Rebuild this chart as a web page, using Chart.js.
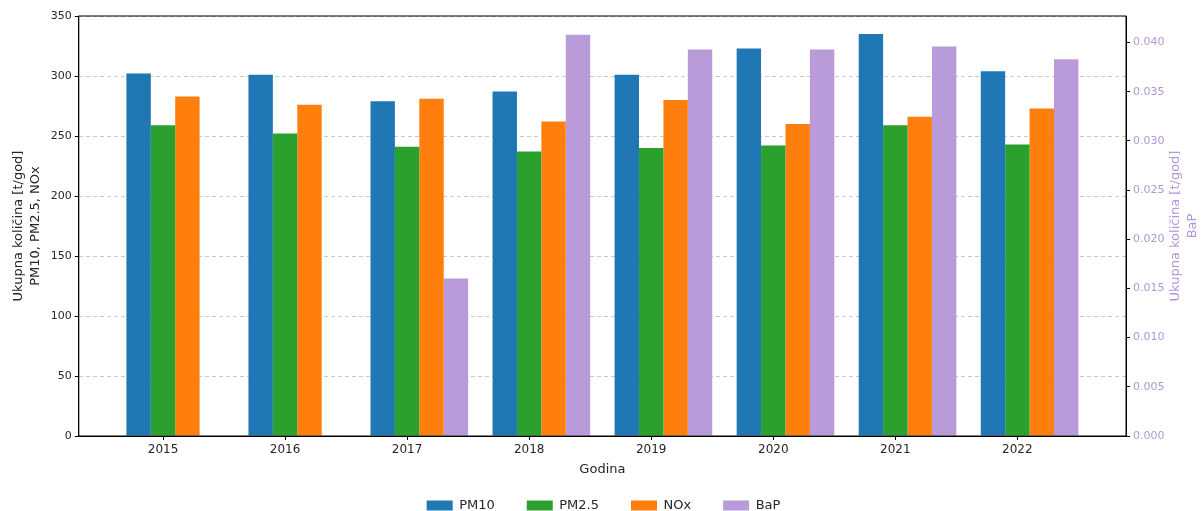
<!DOCTYPE html>
<html>
<head>
<meta charset="utf-8">
<script src="https://cdn.jsdelivr.net/npm/chart.js@4/dist/chart.umd.min.js"></script>
<style>
  body { margin: 0; background: #fff; }
  #wrap { width: 1201px; height: 511px; }
</style>
</head>
<body>
<div id="wrap"><canvas id="chart"></canvas></div>
<script>
const years = [2015, 2016, 2017, 2018, 2019, 2020, 2021, 2022];
const pm10 = [302, 301, 279, 287, 301, 323, 335, 304];
const pm25 = [259, 252, 241, 237, 240, 242, 259, 243];
const nox = [283, 276, 281, 262, 280, 260, 266, 273];
const bap = [null, null, 0.0160, 0.0408, 0.0393, 0.0393, 0.0396, 0.0383];
const leftTicks = [0, 50, 100, 150, 200, 250, 300, 350];
const rightTicks = [0, 0.005, 0.01, 0.015, 0.02, 0.025, 0.03, 0.035, 0.04];

const purple = 'rgb(185,155,218)';
const purpleText = 'rgb(180,148,220)';
const textColor = '#262626';

const toPoints = function (values) {
    return years.map((y, i) => ({x: y + 0.1, y: values[i]}));
};

const frame = {
    id: 'frame',
    afterDraw(chart) {
        const {ctx, chartArea} = chart;
        ctx.save();
        ctx.strokeStyle = '#000';
        ctx.lineWidth = 1;
        ctx.setLineDash([]);
        ctx.strokeRect(chartArea.left, chartArea.top, chartArea.right - chartArea.left, chartArea.bottom - chartArea.top);
        // right axis title, reading bottom to top like the original
        const mid = (chartArea.top + chartArea.bottom) / 2;
        ctx.fillStyle = purpleText;
        ctx.font = '13px "DejaVu Sans"';
        ctx.textAlign = 'center';
        ctx.textBaseline = 'middle';
        ctx.translate(chartArea.right + 50, mid);
        ctx.rotate(-Math.PI / 2);
        ctx.fillText('Ukupna količina [t/god]', 0, 0);
        ctx.fillText('BaP', 0, 17);
        ctx.restore();
    }
};

new Chart(document.getElementById('chart').getContext('2d'), {
    type: 'bar',
    data: {
        datasets: [
            {label: 'PM10', data: toPoints(pm10), backgroundColor: '#1f77b4', yAxisID: 'y'},
            {label: 'PM2.5', data: toPoints(pm25), backgroundColor: '#2ca02c', yAxisID: 'y'},
            {label: 'NOx', data: toPoints(nox), backgroundColor: '#ff7f0e', yAxisID: 'y'},
            {label: 'BaP', data: toPoints(bap), backgroundColor: purple, yAxisID: 'y1'}
        ]
    },
    options: {
        responsive: true,
        maintainAspectRatio: false,
        animation: false,
        categoryPercentage: 0.8,
        barPercentage: 1.0,
        layout: {padding: {left: 6, right: 0, top: 16, bottom: -11}},
        font: {family: '"DejaVu Sans"'},
        plugins: {
            tooltip: {enabled: false},
            legend: {
                position: 'bottom',
                labels: {
                    boxWidth: 26,
                    boxHeight: 10,
                    padding: 32,
                    color: textColor,
                    font: {size: 13, family: '"DejaVu Sans"'}
                }
            }
        },
        scales: {
            x: {
                type: 'linear',
                offset: false,
                min: 2014.31,
                max: 2022.89,
                afterBuildTicks: (scale) => { scale.ticks = years.map(v => ({value: v})); },
                ticks: {color: textColor, font: {size: 12}, padding: 2.5, callback: (v) => String(v)},
                grid: {offset: false, drawOnChartArea: false, tickLength: 4, color: '#000'},
                border: {color: '#000'},
                title: {display: true, text: 'Godina', color: textColor, font: {size: 13}, padding: {top: 2, bottom: -10}}
            },
            y: {
                position: 'left',
                min: 0,
                max: 350,
                afterBuildTicks: (scale) => { scale.ticks = leftTicks.map(v => ({value: v})); },
                ticks: {color: textColor, font: {size: 11}, padding: 3},
                grid: {color: 'rgba(190,190,190,0.8)', tickColor: '#000', tickLength: 4},
                border: {color: '#000', dash: [4, 3]},
                title: {
                    display: true,
                    text: ['Ukupna količina [t/god]', 'PM10, PM2.5, NOx'],
                    color: textColor,
                    font: {size: 13, lineHeight: 1.3},
                    padding: {bottom: 4}
                }
            },
            y1: {
                position: 'right',
                min: 0,
                max: 0.0427,
                afterBuildTicks: (scale) => { scale.ticks = rightTicks.map(v => ({value: v})); },
                afterFit: (scale) => { scale.width = 75; },
                ticks: {color: purpleText, font: {size: 11}, padding: 3, callback: (v) => v.toFixed(3)},
                grid: {drawOnChartArea: false, tickColor: '#000', tickLength: 4},
                border: {color: '#000'}
            }
        }
    },
    plugins: [frame]
});
</script>
</body>
</html>
